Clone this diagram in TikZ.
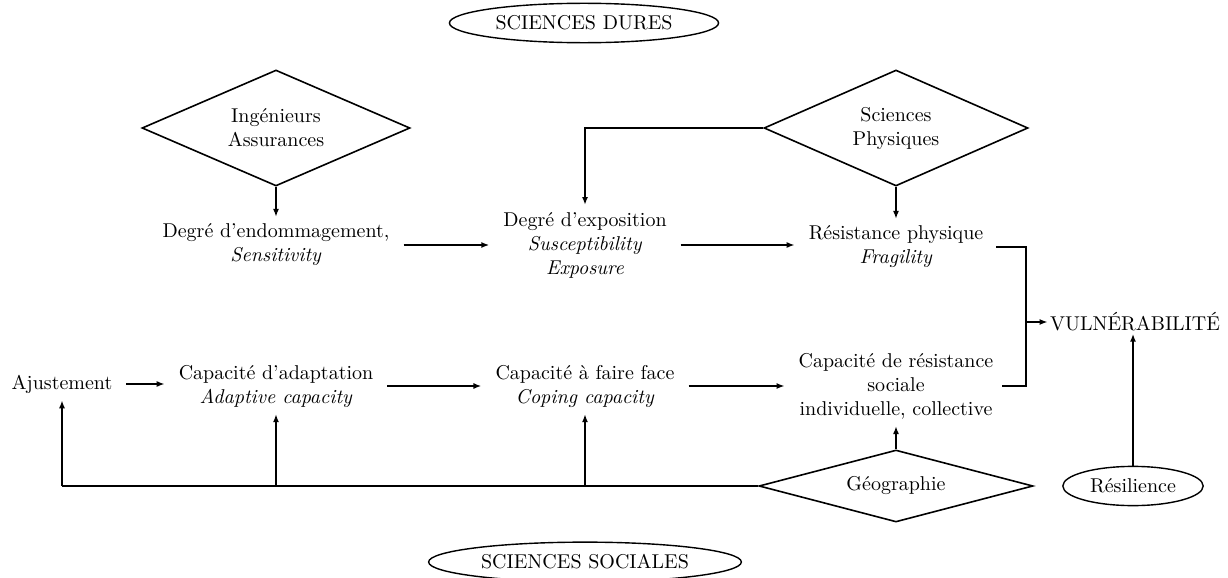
\documentclass[tikz,border=0pt]{standalone}
\usepackage{fontspec}
\usetikzlibrary{shapes.geometric,arrows.meta}
\begin{document}
\begin{tikzpicture}[x=0.5pt,y=-0.5pt,
  txt/.style={align=center, inner sep=3.33pt},
  dia/.style={diamond, draw, line width=0.8pt, align=center, inner sep=1pt},
  ell/.style={ellipse, draw, line width=0.7pt},
  ln/.style={line width=0.8pt},
  arr/.style={line width=0.8pt, -{Latex[length=4pt,width=3pt]}},
  harr/.style={arr, shorten >=3.5pt, shorten <=3.5pt}]
\useasboundingbox (0,0) rectangle (1228,578);

% ellipses
\node[ell] (dures) at (584,23) {SCIENCES DURES};
\node[ell] (sociales) at (585,562) {SCIENCES SOCIALES};
\node[ell] (resil) at (1133,486) {Résilience};

% diamonds
\node[dia, aspect=2.3, minimum width=134pt, minimum height=58pt] (ing) at (276,128) {Ingénieurs\\Assurances};
\node[dia, aspect=2.3, minimum width=132pt, minimum height=58pt] (phys) at (896,128) {Sciences\\Physiques};
\node[dia, aspect=3.8, minimum width=137pt, minimum height=36pt] (geo) at (896,486) {Géographie};

% text nodes
\node[txt] (endo) at (276,245) {Degré d’endommagement,\\\textit{Sensitivity}};
\node[txt] (expo) at (585,245) {Degré d’exposition\\\textit{Susceptibility}\\\textit{Exposure}};
\node[txt] (resphys) at (896,247) {Résistance physique\\\textit{Fragility}};
\node[inner sep=1pt] (vuln) at (1135,322) {VULNÉRABILITÉ};
\node[txt] (ajust) at (62,384) {Ajustement};
\node[txt] (adapt) at (276,386) {Capacité d’adaptation\\\textit{Adaptive capacity}};
\node[txt] (coping) at (585,386) {Capacité à faire face\\\textit{Coping capacity}};
\node[txt] (socres) at (896,386) {Capacité de résistance\\sociale\\individuelle, collective};

\coordinate (bk) at (1026,322);

% top connectors
\draw[arr] (ing.south) -- (endo.north);
\draw[arr] (phys.south) -- (resphys.north);
\draw[arr] (phys.west) -| (expo.north);
\draw[harr] (endo.east) -- (endo.east -| expo.west);
\draw[harr] (expo.east) -- (expo.east -| resphys.west);

% bottom row
\draw[harr] (ajust.east) -- (ajust.east -| adapt.west);
\draw[harr] (adapt.east) -- (adapt.east -| coping.west);
\draw[harr] (coping.east) -- (coping.east -| socres.west);

% bracket to vulnerability
\draw[ln] ([xshift=3pt]resphys.east) -- (resphys.east -| bk) -- (socres.east -| bk) -- ([xshift=1pt]socres.east);
\draw[arr] (bk) -- (vuln.west);
\draw[arr] (resil.north) -- (resil.north |- vuln.south);

% geography
\draw[arr] (geo.north) -- (socres.south);
\draw[ln] (geo.west) -- (geo.west -| ajust.south);
\draw[arr] (geo.west -| ajust.south) -- (ajust.south);
\draw[arr] (geo.west -| adapt.south) -- (adapt.south);
\draw[arr] (geo.west -| coping.south) -- (coping.south);
\end{tikzpicture}
\end{document}
